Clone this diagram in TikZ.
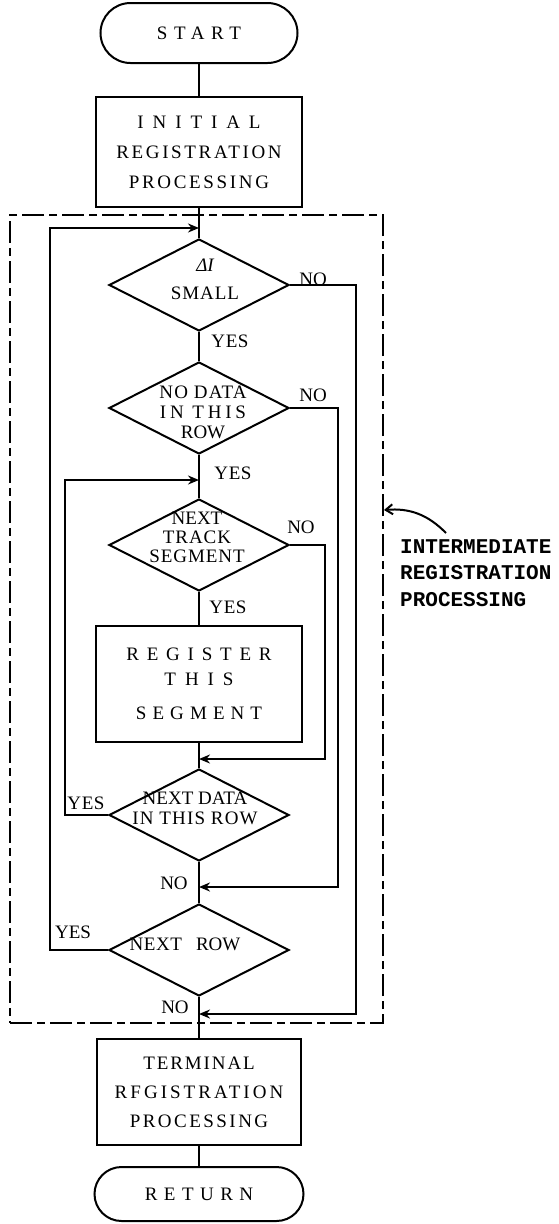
\documentclass[tikz,border=0pt]{standalone}
\usepackage{fontspec}
\setmainfont{Liberation Serif}
\newfontfamily\monofam{Liberation Mono}
\usetikzlibrary{shapes.geometric,shapes.misc,arrows.meta}
\newcommand\lsp[2]{{\addfontfeature{LetterSpace=#1}#2}}
\begin{document}
\begin{tikzpicture}[x=1pt,y=-1pt,
  ln/.style={line width=2pt},
  arr/.style={line width=2pt,-{Stealth[length=11pt,width=9pt]}},
  termbox/.style={draw,line width=2pt,rounded rectangle,inner sep=0pt,font=\fontsize{19}{22}\selectfont},
  procbox/.style={draw,line width=2pt,rectangle,inner sep=0pt,align=center},
  dia/.style={draw,line width=2pt,diamond,inner sep=0pt,minimum width=180pt,minimum height=92pt},
  dtext/.style={align=center,inner sep=0pt},
  lab/.style={inner sep=0pt,font=\fontsize{19}{22}\selectfont},
  ibox/.style={draw,line width=2pt,dash pattern=on 22pt off 5pt on 8pt off 5pt,inner sep=0pt,minimum width=373pt,minimum height=808pt}
]
\useasboundingbox (0,0) rectangle (558,1224);

% main nodes
\node[termbox,minimum width=197pt,minimum height=60pt] (start) at (199,33) {\lsp{35}{START}};
\node[procbox,minimum width=206pt,minimum height=110pt,font=\fontsize{19}{30}\selectfont] (init) at (199,152)
  {\lsp{47}{INITIAL}\\\lsp{14}{REGISTRATION}\\\lsp{14}{PROCESSING}};

\node[ibox] (ib) at (196.5,619) {};

\node[dia] (d1) at (199,285) {};
\node[dtext,font=\fontsize{19}{28}\selectfont] (d1t) at (205,279) {{\itshape ΔI}\\\lsp{5}{SMALL}};

\node[dia] (d2) at (199,408) {};
\node[dtext,font=\fontsize{19}{20}\selectfont] (d2t) at (203,412) {\lsp{6}{NO DATA}\\\lsp{20}{IN THIS}\\ROW};

\node[dia] (d3) at (199,545) {};
\node[dtext,font=\fontsize{19}{19}\selectfont] (d3t) at (197,537) {NEXT\\\lsp{5}{TRACK}\\\lsp{5}{SEGMENT}};

\node[procbox,minimum width=206pt,minimum height=116pt,font=\fontsize{19}{27}\selectfont] (reg) at (199,684)
  {\lsp{41}{REGISTER}\\[-2pt]\lsp{47}{THIS}\\[7pt]\lsp{32}{SEGMENT}};

\node[dia] (d4) at (199,815) {};
\node[dtext,font=\fontsize{19}{20}\selectfont] (d4t) at (195,808) {NEXT DATA\\\lsp{6}{IN THIS ROW}};

\node[dia] (d5) at (199,950) {};
\node[dtext,font=\fontsize{19}{20}\selectfont] (d5t) at (185,944) {\lsp{3}{NEXT}\hspace{14pt}ROW};

\node[procbox,minimum width=204pt,minimum height=106pt,font=\fontsize{19}{29}\selectfont] (term) at (199,1092)
  {\lsp{10}{TERMINAL}\\\lsp{16}{RFGISTRATION}\\\lsp{13}{PROCESSING}};

\node[termbox,minimum width=209pt,minimum height=54pt] (ret) at (199,1194) {\lsp{34}{RETURN}};

% labels
\node[lab] (n1) at (313,279) {NO};
\node[lab] (y1) at (230,341) {\lsp{3}{YES}};
\node[lab] (n2) at (313,395) {NO};
\node[lab] (y2) at (233,473) {\lsp{3}{YES}};
\node[lab] (n3) at (301,527) {NO};
\node[lab] (y3) at (228,607) {\lsp{3}{YES}};
\node[lab] (y4) at (86,803) {\lsp{3}{YES}};
\node[lab] (n4) at (174,883) {NO};
\node[lab] (y5) at (73,932) {YES};
\node[lab] (n5) at (175,1007) {NO};

% junction coordinates
\coordinate (j1) at (199,228); \coordinate (oL) at (50,228);
\coordinate (j2) at (199,480); \coordinate (iL) at (65,480);
\coordinate (j3) at (199,759); \coordinate (r3) at (325,759);
\coordinate (j4) at (199,887); \coordinate (r2) at (338,887);
\coordinate (j5) at (199,1014); \coordinate (r1) at (356,1014);

% trunk
\draw[ln] (start) -- (init);
\draw[ln] (init) -- (d1);
\draw[ln] (d1) -- (d2);
\draw[ln] (d2) -- (d3);
\draw[ln] (d3) -- (reg);
\draw[ln] (reg) -- (d4);
\draw[ln] (d4) -- (d5);
\draw[ln] (d5) -- (term);
\draw[ln] (term) -- (ret);

% branches
\draw[arr] (d5.west) -| (oL) -- (j1);
\draw[arr] (d4.west) -| (iL) -- (j2);
\draw[arr] (d3.east) -| (r3) -- (j3);
\draw[arr] (d2.east) -| (r2) -- (j4);
\draw[arr] (d1.east) -| (r1) -- (j5);

% side label
\node[anchor=west,inner sep=0pt,align=left,font=\monofam\bfseries\fontsize{21}{26.5}\selectfont] (side) at (400,573)
  {INTERMEDIATE\\REGISTRATION\\PROCESSING};
\coordinate (a0) at (446,533);
\coordinate (a1) at (384,510);
\draw[ln,-{Straight Barb[length=7pt,width=10pt]}] (a0) to[bend right=25] (a1);
\end{tikzpicture}
\end{document}
